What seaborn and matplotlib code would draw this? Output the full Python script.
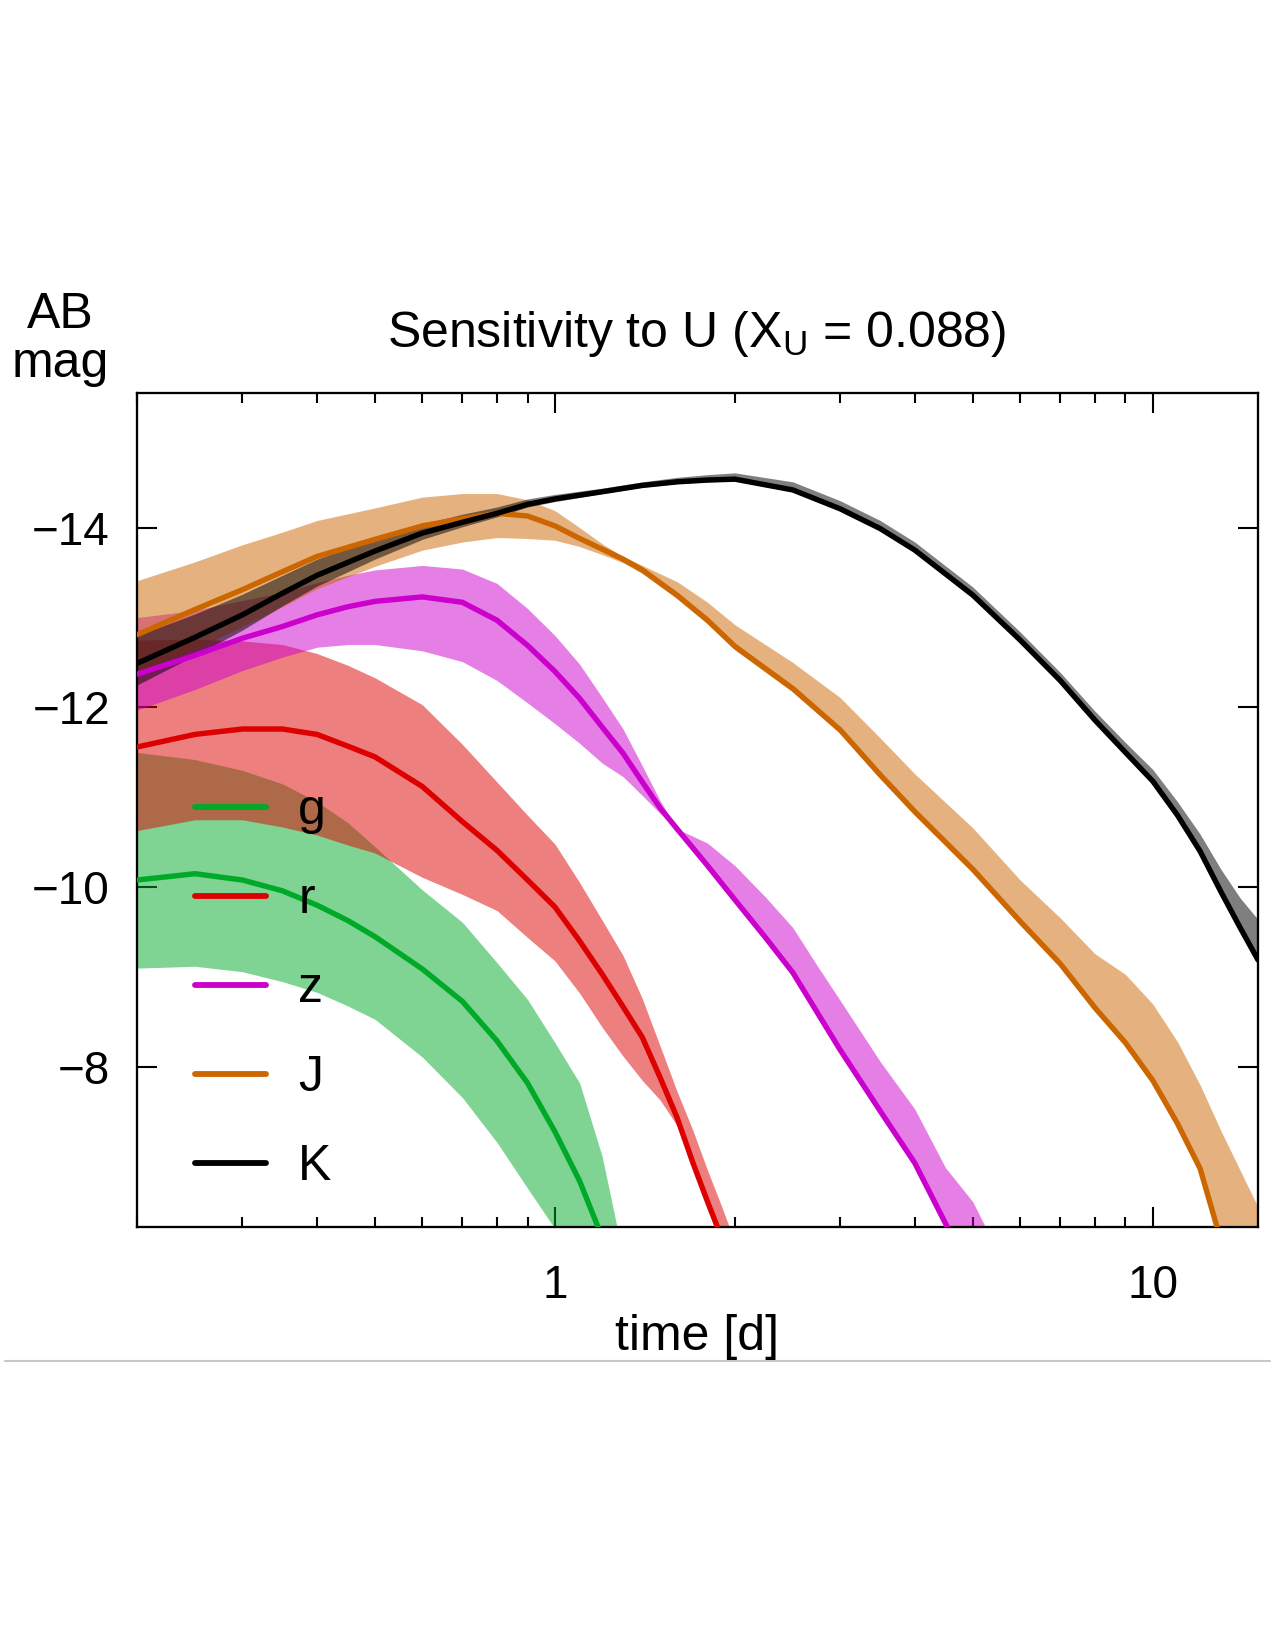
import numpy as np
import matplotlib
matplotlib.use("Agg")
import matplotlib.pyplot as plt
from matplotlib.lines import Line2D
from matplotlib.ticker import LogLocator, NullFormatter
import seaborn as sns

# light curves: centre line plus band edges (AB mag)
g_t = [0.2, 0.25, 0.3, 0.35, 0.4, 0.45, 0.5, 0.6, 0.7, 0.8, 0.9, 1.0, 1.1, 1.2, 1.3]
g_mid = [-10.08, -10.15, -10.08, -9.96, -9.80, -9.63, -9.45, -9.09, -8.73, -8.29, -7.82, -7.28, -6.73, -6.10, -5.50]
g_hi = [-11.50, -11.42, -11.30, -11.15, -10.95, -10.72, -10.45, -9.97, -9.61, -9.16, -8.75, -8.27, -7.82, -7.00, -5.90]
g_lo = [-9.10, -9.12, -9.06, -8.95, -8.83, -8.68, -8.53, -8.11, -7.66, -7.16, -6.65, -6.20, -5.50, -4.80, -4.00]

r_t = [0.2, 0.25, 0.3, 0.35, 0.4, 0.45, 0.5, 0.6, 0.7, 0.8, 0.9, 1.0, 1.1, 1.2, 1.3, 1.4, 1.5, 1.6, 1.7, 1.8, 1.9, 2.0]
r_mid = [-11.56, -11.70, -11.76, -11.76, -11.70, -11.57, -11.45, -11.12, -10.73, -10.41, -10.08, -9.78, -9.40, -9.03,
         -8.67, -8.33, -7.88, -7.44, -6.94, -6.50, -6.10, -5.70]
r_hi = [-12.75, -12.76, -12.74, -12.70, -12.60, -12.47, -12.33, -12.03, -11.59, -11.17, -10.80, -10.48, -10.05, -9.63,
        -9.24, -8.76, -8.23, -7.73, -7.30, -6.85, -6.45, -6.05]
r_lo = [-10.63, -10.75, -10.75, -10.67, -10.58, -10.47, -10.38, -10.11, -9.92, -9.74, -9.44, -9.18, -8.82, -8.44,
        -8.12, -7.85, -7.63, -7.35, -6.90, -6.45, -6.05, -5.65]

z_t = [0.2, 0.25, 0.3, 0.35, 0.4, 0.45, 0.5, 0.6, 0.7, 0.8, 0.9, 1.0, 1.1, 1.2, 1.3, 1.4, 1.5, 1.6, 1.8, 2.0,
       2.25, 2.5, 2.75, 3.0, 3.5, 4.0, 4.5, 5.0, 5.5]
z_mid = [-12.37, -12.58, -12.77, -12.90, -13.03, -13.12, -13.18, -13.23, -13.17, -12.97, -12.69, -12.40, -12.10,
         -11.78, -11.49, -11.17, -10.88, -10.65, -10.24, -9.86, -9.44, -9.05, -8.60, -8.19, -7.51, -6.93, -6.26,
         -5.65, -5.10]
z_hi = [-13.00, -13.08, -13.19, -13.28, -13.39, -13.47, -13.53, -13.58, -13.54, -13.38, -13.10, -12.80, -12.48,
        -12.11, -11.76, -11.35, -10.96, -10.65, -10.49, -10.24, -9.89, -9.55, -9.12, -8.74, -8.06, -7.53, -6.88,
        -6.50, -5.95]
z_lo = [-11.97, -12.20, -12.41, -12.56, -12.67, -12.70, -12.70, -12.63, -12.51, -12.30, -12.05, -11.82, -11.60,
        -11.38, -11.23, -11.02, -10.82, -10.65, -10.21, -9.83, -9.41, -9.02, -8.57, -8.16, -7.48, -6.90, -6.23,
        -5.62, -5.07]

J_t = [0.2, 0.25, 0.3, 0.35, 0.4, 0.5, 0.6, 0.7, 0.8, 0.9, 1.0, 1.1, 1.2, 1.3, 1.4, 1.6, 1.8, 2.0, 2.5, 3.0,
       3.5, 4.0, 5.0, 6.0, 7.0, 8.0, 9.0, 10.0, 11.0, 12.0, 13.0, 14.0, 15.0]
J_mid = [-12.81, -13.09, -13.31, -13.51, -13.68, -13.87, -14.02, -14.10, -14.16, -14.13, -14.02, -13.88, -13.76,
         -13.65, -13.53, -13.25, -12.97, -12.68, -12.21, -11.75, -11.25, -10.84, -10.20, -9.62, -9.15, -8.66,
         -8.27, -7.85, -7.37, -6.87, -6.07, -5.30, -4.50]
J_hi = [-13.41, -13.62, -13.81, -13.95, -14.08, -14.22, -14.34, -14.38, -14.38, -14.31, -14.19, -14.00, -13.82,
        -13.68, -13.58, -13.40, -13.17, -12.92, -12.50, -12.11, -11.66, -11.26, -10.66, -10.08, -9.66, -9.26,
        -9.03, -8.70, -8.28, -7.80, -7.29, -6.85, -6.44]
J_lo = [-12.40, -12.65, -12.90, -13.12, -13.32, -13.57, -13.75, -13.84, -13.89, -13.88, -13.86, -13.79, -13.70,
        -13.61, -13.49, -13.21, -12.93, -12.64, -12.17, -11.71, -11.21, -10.80, -10.16, -9.58, -9.11, -8.62,
        -8.23, -7.81, -7.33, -6.83, -6.03, -5.26, -4.46]

K_t = [0.2, 0.25, 0.3, 0.35, 0.4, 0.5, 0.6, 0.7, 0.8, 0.9, 1.0, 1.2, 1.4, 1.6, 1.8, 2.0, 2.5, 3.0, 3.5, 4.0,
       5.0, 6.0, 7.0, 8.0, 9.0, 10.0, 11.0, 12.0, 13.0, 14.0, 15.0]
K_mid = [-12.49, -12.78, -13.03, -13.27, -13.47, -13.74, -13.94, -14.06, -14.16, -14.26, -14.32, -14.40, -14.47,
         -14.51, -14.53, -14.54, -14.42, -14.21, -13.99, -13.75, -13.25, -12.75, -12.30, -11.86, -11.50, -11.18,
         -10.80, -10.40, -9.95, -9.55, -9.19]
K_hi = [-12.80, -13.04, -13.26, -13.47, -13.65, -13.88, -14.04, -14.15, -14.23, -14.32, -14.37, -14.44, -14.51,
        -14.56, -14.59, -14.61, -14.51, -14.30, -14.08, -13.84, -13.34, -12.84, -12.39, -11.96, -11.61, -11.31,
        -10.95, -10.59, -10.20, -9.88, -9.64]
K_lo = [-12.25, -12.58, -12.86, -13.13, -13.35, -13.65, -13.87, -14.01, -14.12, -14.23, -14.29, -14.38, -14.45,
        -14.49, -14.51, -14.52, -14.40, -14.19, -13.97, -13.73, -13.23, -12.73, -12.28, -11.84, -11.48, -11.16,
        -10.78, -10.38, -9.93, -9.53, -9.17]

band_names = ["g", "r", "z", "J", "K"]
band_colors = ["#00aa28", "#dd0000", "#cc00cc", "#cc6600", "#000000"]
bands = [(g_t, g_mid, g_hi, g_lo), (r_t, r_mid, r_hi, r_lo), (z_t, z_mid, z_hi, z_lo),
         (J_t, J_mid, J_hi, J_lo), (K_t, K_mid, K_hi, K_lo)]

sns.set_style("ticks")
plt.rcParams["font.family"] = ["Liberation Sans", "DejaVu Sans"]
plt.rcParams["mathtext.fontset"] = "custom"
plt.rcParams["mathtext.rm"] = "Liberation Sans"
plt.rcParams["mathtext.it"] = "Liberation Sans"
plt.rcParams["text.color"] = "black"
plt.rcParams["axes.edgecolor"] = "black"
plt.rcParams["xtick.color"] = "black"
plt.rcParams["ytick.color"] = "black"

fig = plt.figure(figsize=(8.5, 11), dpi=150)
ax = fig.add_axes([0.1075, 0.2564, 0.8792, 0.5055])
ax.set_xscale("log")

# shaded uncertainty bands first, then centre lines on top
for (t, mid, hi, lo), c in zip(bands, band_colors):
    ax.fill_between(t, lo, hi, color=c, alpha=0.5, lw=0, zorder=1)
for (t, mid, hi, lo), c, name in zip(bands, band_colors, band_names):
    sns.lineplot(x=t, y=mid, color=c, lw=2.6, ax=ax, sort=False, label=name, zorder=3)

ax.set_xlim(0.2, 15)
ax.set_ylim(-6.22, -15.5)
ax.set_xticks([1, 10], labels=["1", "10"])
ax.xaxis.set_minor_locator(LogLocator(base=10, subs=np.arange(2, 10)))
ax.xaxis.set_minor_formatter(NullFormatter())
ax.set_yticks([-14, -12, -10, -8])
ax.tick_params(which="both", direction="in", top=True, right=True, width=1.0, labelsize=22,
               colors="black")
ax.tick_params(which="major", length=9.5)
ax.tick_params(which="minor", length=5)
ax.tick_params(axis="x", pad=18)
ax.tick_params(axis="y", pad=13)
for s in ax.spines.values():
    s.set_linewidth(1.1)
    s.set_color("black")
ax.set_xlabel("")
ax.set_ylabel("")

handles = [Line2D([], [], color=c, lw=2.8) for c in band_colors]
ax.legend(handles, band_names, loc="upper left", bbox_to_anchor=(0.052, 0.526), frameon=False,
          fontsize=24, handlelength=1.41, handletextpad=0.65, labelspacing=0.86, borderpad=0,
          borderaxespad=0)

fig.text(0.5467, 0.7897, "Sensitivity to U (X$_\\mathrm{U}$ = 0.088)", ha="center", va="baseline", fontsize=24)
fig.text(0.047, 0.8012, "AB", ha="center", va="baseline", fontsize=24)
fig.text(0.047, 0.7715, "mag", ha="center", va="baseline", fontsize=24)
fig.text(0.5467, 0.1818, "time [d]", ha="center", va="baseline", fontsize=24)

# thin page rule under the plot
fig.add_artist(Line2D([0.004, 0.996], [0.1752, 0.1752], transform=fig.transFigure, color="#c8c8c8", lw=1))

fig.savefig("out.png", dpi=150, facecolor="white")
